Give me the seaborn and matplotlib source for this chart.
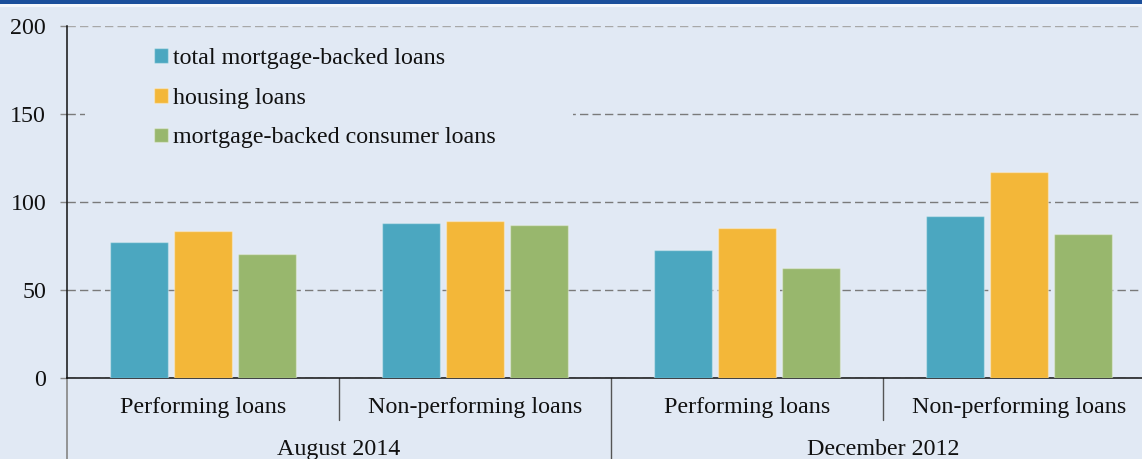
import matplotlib
matplotlib.use("Agg")
import matplotlib.pyplot as plt
from matplotlib.patches import Rectangle
import matplotlib.transforms as mtransforms
import seaborn as sns
import pandas as pd

# ---- data ----
periods = ["August 2014", "December 2012"]
loan_types = ["Performing loans", "Non-performing loans"]
series = ["total mortgage-backed loans", "housing loans", "mortgage-backed consumer loans"]
# values per series, ordered: Aug14 performing, Aug14 non-performing, Dec12 performing, Dec12 non-performing
total_mortgage = [77, 88, 73, 92]
housing = [83.5, 89, 85, 117]
consumer = [70.5, 87, 62.5, 82]
y_ticks = [0, 50, 100, 150, 200]

colors = ["#4ba7c0", "#f3b739", "#98b76d"]
bg = "#e1e9f4"
FS = 17.3
TXT = "#111111"

slots = [f"{p}|{l}" for p in periods for l in loan_types]
rows = []
for name, vals in zip(series, [total_mortgage, housing, consumer]):
    for slot, v in zip(slots, vals):
        rows.append({"slot": slot, "series": name, "value": v})
df = pd.DataFrame(rows)

sns.set_style("white")
plt.rcParams["font.family"] = ["Liberation Serif", "DejaVu Serif"]
plt.rcParams["font.size"] = FS

W, H = 1142, 459
fig = plt.figure(figsize=(W / 100, H / 100), dpi=100, facecolor=bg)

# header band
fig.patches.append(Rectangle((0, 1 - 4 / H), 1, 4 / H, transform=fig.transFigure,
                             facecolor="#1b4f9b", edgecolor="none", zorder=0))
fig.patches.append(Rectangle((0, 1 - 7 / H), 1, 3 / H, transform=fig.transFigure,
                             facecolor="#f4f7fb", edgecolor="none", zorder=0))

x0, y0, x1, y1 = 67, 378, 1155, 26
ax = fig.add_axes([x0 / W, (H - y0) / H, (x1 - x0) / W, (y0 - y1) / H])
ax.set_facecolor(bg)

sns.barplot(data=df, x="slot", y="value", hue="series", order=slots, hue_order=series,
            palette=colors, saturation=1, width=0.706, gap=0.094, ax=ax, errorbar=None,
            edgecolor=(1, 1, 1, 0.35), linewidth=1, zorder=3)

ax.set_ylim(0, 200)
ax.set_xlim(-0.5, 3.5)
ax.set_yticks(y_ticks)
ax.set_yticklabels([str(t) for t in y_ticks], fontsize=FS, color=TXT)
ax.tick_params(axis="y", length=5, width=1, color="#888888", pad=10, left=True)
ax.set_xticks([])
ax.set_xlabel("")
ax.set_ylabel("")

ax.grid(axis="y", color="#7a7a7a", linestyle=(0, (6, 3)), linewidth=1, zorder=1)
ax.set_axisbelow(True)
ax.yaxis.get_gridlines()[-1].set_color("#a8a8a8")

for s in ["top", "right"]:
    ax.spines[s].set_visible(False)
ax.spines["left"].set_color("#111111")
ax.spines["bottom"].set_color("#111111")
ax.spines["left"].set_linewidth(1.1)
ax.spines["bottom"].set_linewidth(1.1)

trans = mtransforms.blended_transform_factory(ax.transData, ax.transAxes)
# y-axis extension below the baseline
ax.plot([-0.5, -0.5], [0, -0.3], transform=trans, color="#8c8c8c", lw=1.3, clip_on=False)
# separators between loan types and between periods
for xs in (0.5, 2.5):
    ax.plot([xs, xs], [0, -0.119], transform=trans, color="#555555", lw=1, clip_on=False)
ax.plot([1.5, 1.5], [0, -0.3], transform=trans, color="#555555", lw=1, clip_on=False)

for i, slot in enumerate(slots):
    ax.text(i, -0.085, slot.split("|")[1], transform=trans, ha="center", va="center",
            fontsize=FS, color=TXT)
for j, p in enumerate(periods):
    ax.text(2 * j + 0.5, -0.203, p, transform=trans, ha="center", va="center",
            fontsize=FS, color=TXT)

# legend panel hiding the gridline behind it
ax.add_patch(Rectangle(((85 - x0) / (x1 - x0), (y0 - 152) / (y0 - y1)),
                       (573 - 85) / (x1 - x0), (152 - 36) / (y0 - y1),
                       transform=ax.transAxes, facecolor=bg, edgecolor="none", zorder=2))
leg = ax.legend(loc="upper left", bbox_to_anchor=((154 - x0) / (x1 - x0), (y0 - 48) / (y0 - y1)),
                frameon=False, fontsize=FS, handlelength=0.58, handleheight=0.58,
                handletextpad=0.2, labelspacing=0.78, borderaxespad=0, borderpad=0)
for t in leg.get_texts():
    t.set_color(TXT)
leg.set_zorder(5)

fig.savefig("out.png", dpi=100, facecolor=bg)
